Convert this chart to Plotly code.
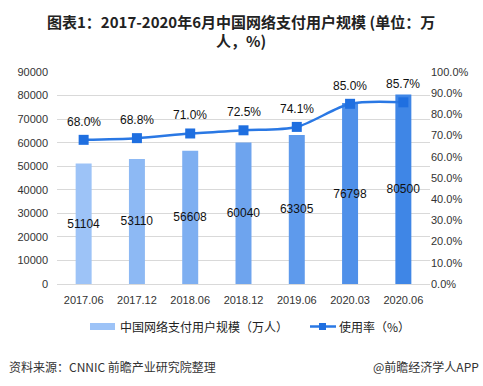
import plotly.graph_objects as go

categories = ["2017.06", "2017.12", "2018.06", "2018.12", "2019.06", "2020.03", "2020.06"]
users = [51104, 53110, 56608, 60040, 63305, 76798, 80500]
rate = [0.680, 0.688, 0.710, 0.725, 0.741, 0.850, 0.857]
rate_labels = ["68.0%", "68.8%", "71.0%", "72.5%", "74.1%", "85.0%", "85.7%"]
left_ticks = [0, 10000, 20000, 30000, 40000, 50000, 60000, 70000, 80000, 90000]
right_ticks = [0, 0.1, 0.2, 0.3, 0.4, 0.5, 0.6, 0.7, 0.8, 0.9, 1.0]

FONT = "Liberation Sans, Noto Sans CJK SC, sans-serif"
CJK = "Noto Sans CJK SC, sans-serif"

def lerp(c1, c2, t):
    return "rgb(%d,%d,%d)" % tuple(round(a + (b - a) * t) for a, b in zip(c1, c2))

n = len(categories)
xs = list(range(n))
bar_colors = [lerp((157, 195, 247), (63, 134, 230), i / (n - 1)) for i in range(n)]

fig = go.Figure()
fig.add_trace(go.Bar(
    x=xs, y=users, marker=dict(color=bar_colors, line=dict(width=0)),
    width=0.3, text=[str(v) for v in users], textposition="inside",
    insidetextanchor="middle", textangle=0, constraintext="none",
    textfont=dict(family=FONT, size=12, color="#111111"),
    showlegend=False, hoverinfo="skip", yaxis="y", cliponaxis=False,
))
fig.add_trace(go.Scatter(
    x=xs, y=rate, mode="lines+markers",
    line=dict(color="#2A78E4", width=2.5, shape="spline", smoothing=0.8),
    marker=dict(symbol="square", size=10, color="#1F6FE0"),
    showlegend=False, yaxis="y2", hoverinfo="skip",
))
for xv, r, lab in zip(xs, rate, rate_labels):
    fig.add_annotation(x=xv, y=r, xref="x", yref="y2", text=lab, showarrow=False,
                       yshift=18, yanchor="middle",
                       font=dict(family=FONT, size=12, color="#111111"))

def py(px):
    return (284 - px) / 212

def pxx(px):
    return (px - 57) / 373

def note(x, y, text, size, anchor, color="#222222"):
    fig.add_annotation(xref="paper", yref="paper", x=pxx(x), y=py(y), text=text,
                       showarrow=False, xanchor=anchor, yanchor="middle",
                       font=dict(family=CJK, size=size, color=color))

# title
note(241, 22, "<b>图表1：2017-2020年6月中国网络支付用户规模 (单位：万</b>", 15, "center")
note(241, 40, "<b>人，%)</b>", 15, "center")

# custom legend
fig.add_shape(type="rect", xref="paper", yref="paper", x0=pxx(90), x1=pxx(115),
              y0=py(330), y1=py(323), fillcolor="#9DC3F7", line=dict(width=0))
note(118, 326, "中国网络支付用户规模（万人）", 12, "left")
fig.add_shape(type="line", xref="paper", yref="paper", x0=pxx(310), x1=pxx(336),
              y0=py(326.5), y1=py(326.5), line=dict(color="#2A78E4", width=2.5))
fig.add_shape(type="rect", xref="paper", yref="paper", x0=pxx(319), x1=pxx(326),
              y0=py(330), y1=py(323), fillcolor="#1F6FE0", line=dict(width=0))
note(337, 326, "使用率（%）", 12, "left")

# source
note(7, 366, "资料来源：CNNIC 前瞻产业研究院整理", 12, "left", "#333333")
note(481, 366, "@前瞻经济学人APP", 12, "right", "#333333")

fig.update_layout(
    width=483, height=386,
    margin=dict(l=57, r=53, t=72, b=102),
    paper_bgcolor="white", plot_bgcolor="white",
    xaxis=dict(range=[-0.5, n - 0.5], tickvals=xs, ticktext=categories, showgrid=False,
               showline=True, linecolor="#D9D9D9", zeroline=False,
               tickfont=dict(family=FONT, size=11, color="#333333"), ticks="",
               ticklabelstandoff=6),
    yaxis=dict(range=[0, 90000], tickvals=left_ticks, ticktext=[str(v) for v in left_ticks],
               showgrid=True, gridcolor="#D9D9D9",
               zeroline=False, tickfont=dict(family=FONT, size=11, color="#333333"),
               ticklabelstandoff=8),
    yaxis2=dict(range=[0, 1.0], tickvals=right_ticks,
                ticktext=["%.1f%%" % (v * 100) for v in right_ticks], overlaying="y",
                side="right", showgrid=False, zeroline=False,
                tickfont=dict(family=FONT, size=11, color="#333333")),
    font=dict(family=FONT),
)

fig.write_html("out.html", config={"displayModeBar": False},
               post_script="document.body.style.margin='0';")
